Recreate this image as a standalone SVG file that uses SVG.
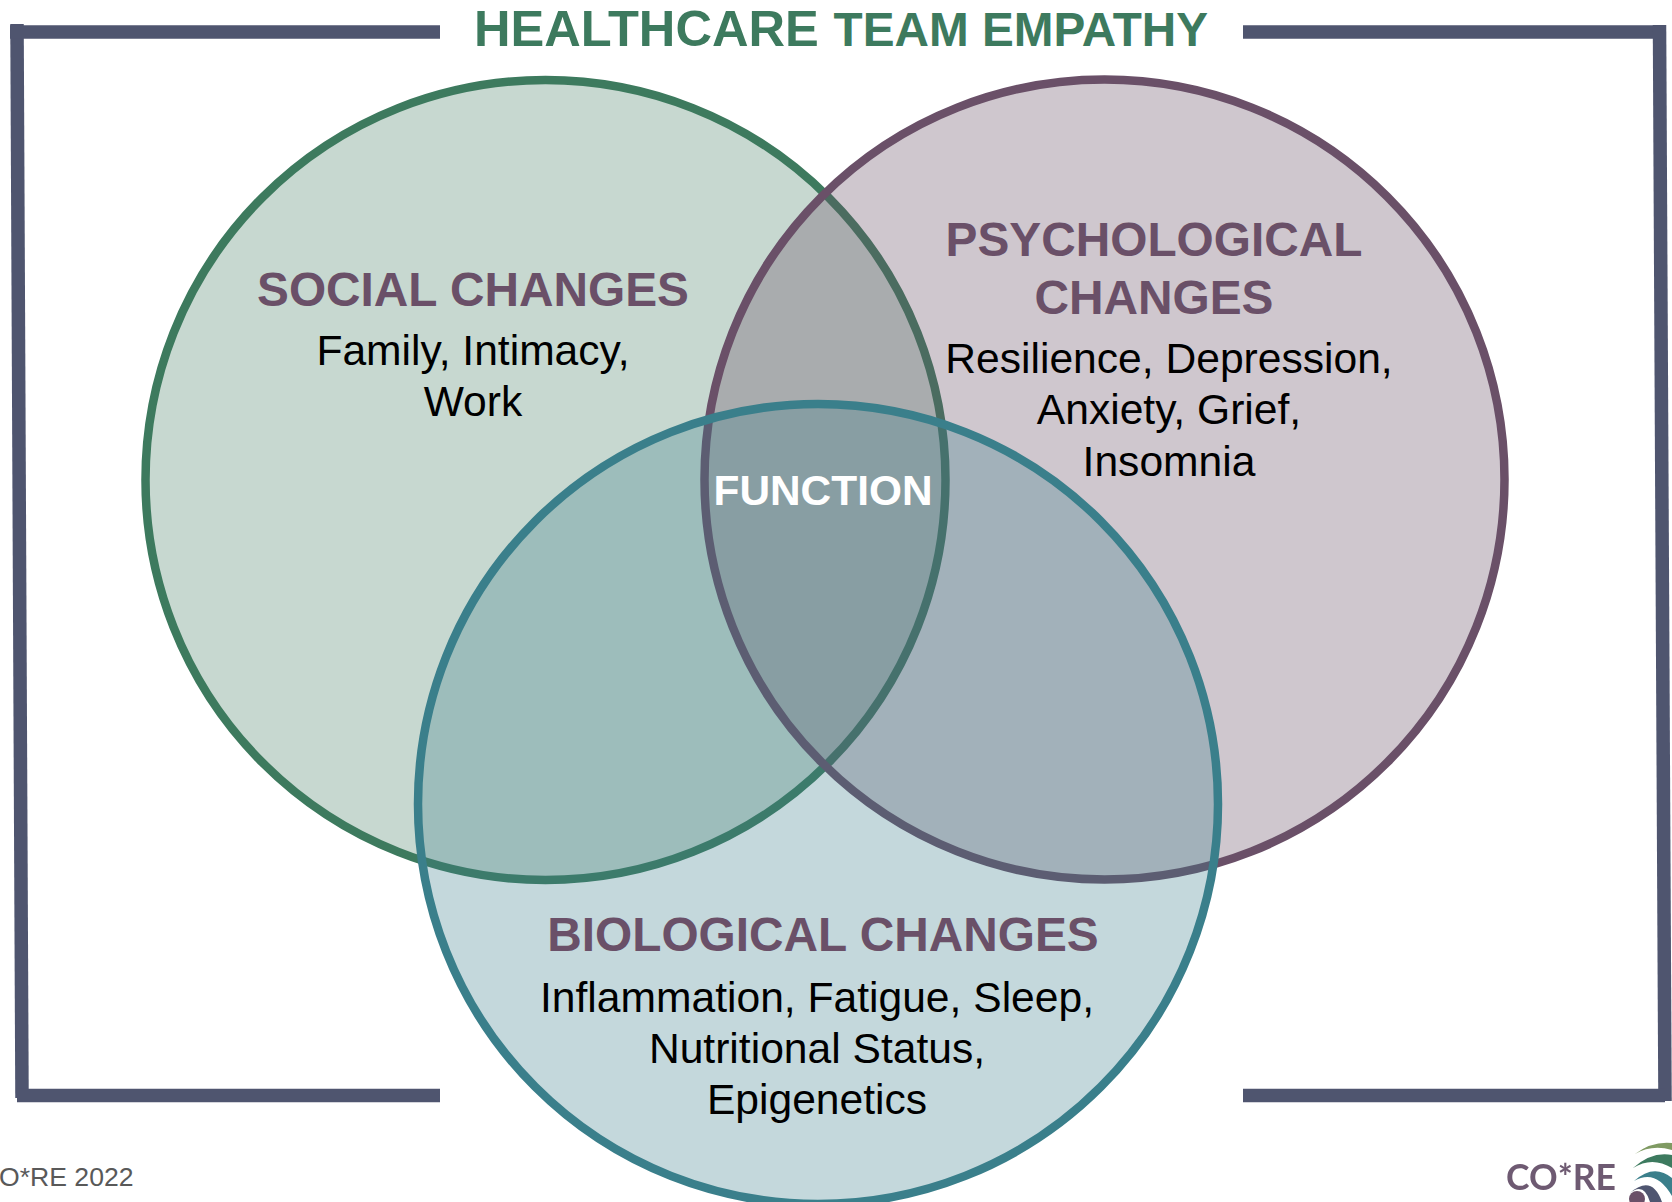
<svg xmlns="http://www.w3.org/2000/svg" width="1672" height="1202" viewBox="0 0 1672 1202">
<defs><filter id="soft" x="-5%" y="-5%" width="110%" height="110%"><feGaussianBlur stdDeviation="0.7"/></filter></defs>
<style>
text{font-family:"Liberation Sans",Arial,sans-serif;text-anchor:middle}
.h{font-weight:700;font-size:47.8px;fill:#6a5068}
.b{font-size:42.6px;fill:#000}
.c{stroke-width:8.5}
.f{fill:none;stroke:#4f556f;stroke-width:13.5}
</style>
<rect width="1672" height="1202" fill="#fff"/>
<g id="frame">
<path class="f" d="M17 24L22 1098"/>
<path class="f" d="M10 32H440"/>
<path class="f" d="M17 1095.5H440"/>
<path class="f" d="M1243 32H1666"/>
<path class="f" d="M1659.5 25L1665 1101"/>
<path class="f" d="M1243 1095.5H1665"/>
</g>
<text id="title" y="46" style="text-anchor:start;font-weight:700;font-size:47.7px;fill:#3d7a5e"><tspan x="474" style="font-size:50.6px">HEALTHCARE </tspan><tspan x="833.5">TEAM </tspan><tspan x="982">EMPATHY</tspan></text>
<g id="social">
<circle class="c" cx="545.5" cy="480" r="400" fill="#3d7a5e" fill-opacity=".29" stroke="#3d7a5e"/>
</g>
<g id="psychological">
<circle class="c" cx="1104.5" cy="479.5" r="400" fill="#6a5068" fill-opacity=".32" stroke="#6a5068"/>
</g>
<g id="biological">
<circle class="c" cx="818" cy="804" r="400" fill="#3a7f8b" fill-opacity=".3" stroke="#3a7f8b"/>
</g>
<g id="social-label">
<text class="h" x="473" y="305.5">SOCIAL CHANGES</text>
<text class="b" x="473" y="365">Family, Intimacy,</text>
<text class="b" x="473" y="416">Work</text>
</g>
<g id="psychological-label">
<text class="h" x="1154" y="255.5">PSYCHOLOGICAL</text>
<text class="h" x="1154" y="313.5">CHANGES</text>
<text class="b" x="1169" y="373">Resilience, Depression,</text>
<text class="b" x="1169" y="424">Anxiety, Grief,</text>
<text class="b" x="1169" y="475.5">Insomnia</text>
</g>
<g id="biological-label">
<text class="h" x="823" y="950.5">BIOLOGICAL CHANGES</text>
<text class="b" x="817" y="1012">Inflammation, Fatigue, Sleep,</text>
<text class="b" x="817" y="1063">Nutritional Status,</text>
<text class="b" x="817" y="1114">Epigenetics</text>
</g>
<g id="function">
<text x="823" y="505" style="font-weight:700;font-size:42.4px;fill:#fff">FUNCTION</text>
</g>
<text id="credit" x="-1" y="1186" style="text-anchor:start;font-size:26.6px;fill:#595959">O*RE 2022</text>
<g id="logo" filter="url(#soft)">
<text x="1561" y="1190" style="font-family:Lato,sans-serif;font-weight:700;font-size:35.5px;fill:#6e5a72">CO*RE</text>
<path d="M1635 1154Q1652 1141 1672 1143V1150Q1652 1144 1635 1154Z" fill="#7f9a62"/>
<path d="M1633 1168Q1652 1151 1672 1155V1168Q1652 1156 1633 1168Z" fill="#3d7a5e"/>
<path d="M1634 1181Q1654 1163 1672 1178V1196Q1656 1168 1634 1181Z" fill="#3a7f8b"/>
<path d="M1630 1193Q1652 1174 1662 1202H1650Q1644 1182 1630 1193Z" fill="#4f556f"/>
<circle cx="1637" cy="1199" r="8" fill="#6a5068"/>
</g>
</svg>
